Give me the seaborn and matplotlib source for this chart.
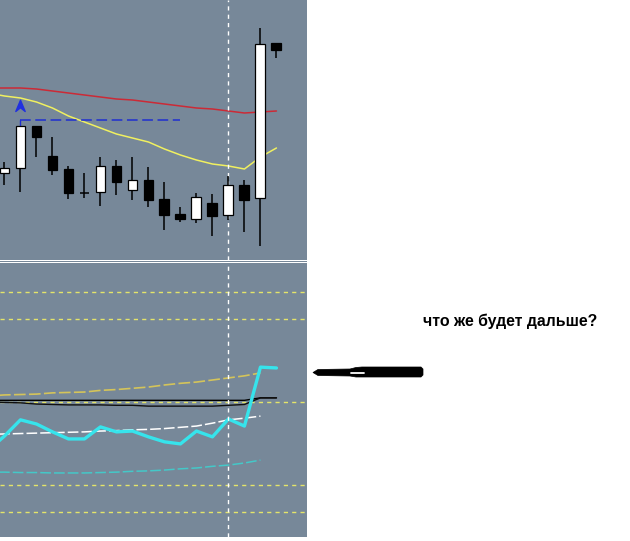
import numpy as np
import pandas as pd
import matplotlib
matplotlib.use("Agg")
import matplotlib.pyplot as plt
import seaborn as sns
from matplotlib.patches import Polygon, Rectangle
from matplotlib.path import Path
from matplotlib.lines import Line2D

sns.set_style("white")
plt.rcParams['font.family'] = ['Liberation Sans', 'DejaVu Sans']

# ---------------- data (price pane) ----------------
candle_idx = list(range(18))
opens  = [87, 92, 134, 104, 91, 67, 68, 94, 70, 80, 61, 46, 41, 57, 45, 75, 62, 217]
highs  = [98, 134, 134, 123, 94, 87, 103, 100, 103, 93, 78, 53, 67, 66, 84, 80, 232, 217]
lows   = [75, 68, 103, 85, 61, 62, 54, 65, 60, 53, 30, 38, 37, 24, 40, 28, 14, 202]
closes = [92, 134, 123, 90, 67, 67, 94, 78, 80, 60, 45, 41, 63, 44, 75, 60, 216, 210]

line_idx = list(range(-1, 18))
ma_red    = [172, 172, 172, 171, 169, 167, 165, 163, 161, 160, 158, 156, 154, 152, 151, 149, 147, 148, 149]
ma_yellow = [167, 164, 162, 158, 152, 144, 138, 132, 126, 122, 118, 111, 105, 100, 96, 94, 91, 103, 112]

level_line_price = 140
level_line_from, level_line_to = 1, 11
signal_idx, signal_price = 1, 154
marker_idx = 14

# ---------------- data (indicator pane) ----------------
osc_main = [38.4, 41.8, 45.7, 44.7, 42.8, 41.1, 41.1, 44.0, 42.8, 43.0, 41.6, 40.4, 39.9,
            43.0, 41.6, 45.9, 44.2, 58.4, 58.2]
band_upper = [51.45, 51.7, 51.8, 51.9, 52.2, 52.3, 52.4, 52.8, 53.0, 53.3, 53.6, 54.1, 54.5,
              54.8, 55.3, 55.8, 56.3, 57.0, np.nan]
band_mid = [42.2, 42.3, 42.4, 42.5, 42.6, 42.7, 42.8, 43.0, 43.1, 43.3, 43.4, 43.6, 43.9,
            44.2, 44.9, 45.7, 46.1, 46.6, np.nan]
band_lower = [33.1, 33.1, 33.0, 33.0, 32.9, 32.9, 32.9, 33.0, 33.1, 33.3, 33.4, 33.6, 33.9,
              34.1, 34.5, 34.8, 35.3, 36.0, np.nan]
sig_flat = [50.4] * 17 + [51.0, 51.0]
sig_wavy = [50.0, 49.9, 49.8, 49.5, 49.4, 49.3, 49.3, 49.3, 49.2, 49.2, 49.0, 49.0, 49.0,
            49.0, 49.0, 49.2, 49.4, 51.0, 51.0]
levels = [23.6, 30, 50, 70, 76.4]

caption = "что же будет дальше?"

# ---------------- figure ----------------
W, H = 630, 541
fig = plt.figure(figsize=(W / 100, H / 100), dpi=100)
fig.patch.set_facecolor("white")
BG = "#778899"

ax1 = fig.add_axes([0, 1 - 260 / H, 307 / W, 260 / H])
ax2 = fig.add_axes([0, 1 - 537 / H, 307 / W, 274 / H])
fig.patches.append(Rectangle((0, 1 - 262 / H), 307 / W, 1 / H, transform=fig.transFigure,
                             facecolor=BG, edgecolor="none"))

for ax in (ax1, ax2):
    ax.set_facecolor(BG)
    for s in ax.spines.values():
        s.set_visible(False)
    ax.set_xticks([])
    ax.set_yticks([])
    ax.set_xlim(-0.28, 18.91)

ax1.set_ylim(0, 260)
ax2.set_ylim(17.47, 83.49)

# price pane
df_ma = pd.DataFrame({"i": line_idx, "red": ma_red, "yellow": ma_yellow})
sns.lineplot(data=df_ma, x="i", y="red", ax=ax1, color="#cc2a36", lw=1.1)
sns.lineplot(data=df_ma, x="i", y="yellow", ax=ax1, color="#f0f060", lw=1.1)

ax1.plot([level_line_from, level_line_to], [level_line_price, level_line_price],
         color="#1f2fd0", lw=1.1, ls=(0, (7, 3)))
ax1.plot([level_line_from, level_line_from], [level_line_price, highs[1]], color="#1f2fd0", lw=1)
arrow_path = Path([(0, 1), (0.75, -0.8), (0, -0.2), (-0.75, -0.8), (0, 1)],
                  [Path.MOVETO, Path.LINETO, Path.LINETO, Path.LINETO, Path.CLOSEPOLY])
ax1.plot([signal_idx], [signal_price], marker=arrow_path, ms=9, color="#2030e0", ls="none")

bw = 0.62
ax1.vlines(candle_idx, lows, highs, color="black", lw=1.1, zorder=3)
for i, o, c in zip(candle_idx, opens, closes):
    if o == c:
        ax1.hlines(o, i - bw / 2, i + bw / 2, color="black", lw=1.1, zorder=4)
    else:
        ax1.bar(i, abs(c - o), bottom=min(o, c), width=bw,
                color="white" if c > o else "black", edgecolor="black", lw=0.9, zorder=4)

# indicator pane
for lv in levels:
    ax2.axhline(lv, color="#e4e46a", lw=1, ls=(0, (3, 3)))

df_osc = pd.DataFrame({"i": line_idx, "main": osc_main, "up": band_upper, "mid": band_mid,
                       "lo": band_lower, "flat": sig_flat, "wavy": sig_wavy})
sns.lineplot(data=df_osc, x="i", y="up", ax=ax2, color="#d4c45a", lw=1.2, linestyle=(0, (7, 2)))
sns.lineplot(data=df_osc, x="i", y="mid", ax=ax2, color="white", lw=1.1, linestyle=(0, (7, 2)))
sns.lineplot(data=df_osc, x="i", y="lo", ax=ax2, color="#44c8c8", lw=1.1, linestyle=(0, (7, 2)))
sns.lineplot(data=df_osc, x="i", y="flat", ax=ax2, color="black", lw=1.0)
sns.lineplot(data=df_osc, x="i", y="wavy", ax=ax2, color="#101010", lw=1.0)
sns.lineplot(data=df_osc, x="i", y="main", ax=ax2, color="#36e4ec", lw=2.4)

for ax in (ax1, ax2):
    ax.axvline(marker_idx, color="white", lw=1, ls=(0, (3, 3)))
    ax.set_xlabel("")
    ax.set_ylabel("")

# annotation arrow and caption (figure pixel coordinates)
def fp(x, y):
    return (x / W, 1 - y / H)

pts = [(313, 372.5), (318, 369.5), (350, 369), (356, 367.5), (362, 367), (421, 367), (423, 369),
       (423, 375), (421, 377), (362, 377), (356, 377), (350, 376), (318, 375.5)]
fig.patches.append(Polygon([fp(*p) for p in pts], closed=True, transform=fig.transFigure,
                           facecolor="black", edgecolor="black", lw=0.5))
(x0, y0), (x1, y1) = fp(351, 372.5), fp(364, 372.5)
fig.lines.append(Line2D([x0, x1], [y0, y1], transform=fig.transFigure, color="white", lw=1.3))

fig.text(423 / W, 1 - 321 / H, caption, fontsize=11.4, fontweight="bold", color="black",
         ha="left", va="center")

fig.savefig("out.png", dpi=100, facecolor="white")
